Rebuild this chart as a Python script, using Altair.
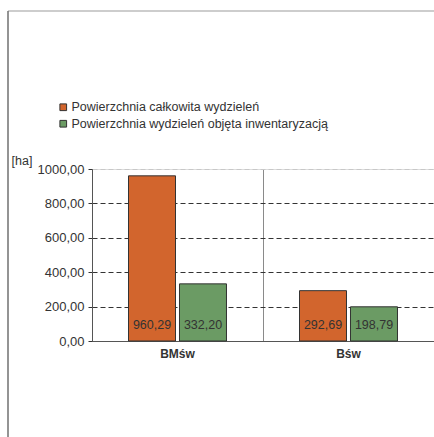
import altair as alt
import pandas as pd

categories = ["BMśw", "BMśw", "Bśw", "Bśw"]
series = ["Powierzchnia całkowita wydzieleń", "Powierzchnia wydzieleń objęta inwentaryzacją",
          "Powierzchnia całkowita wydzieleń", "Powierzchnia wydzieleń objęta inwentaryzacją"]
values = [960.29, 332.20, 292.69, 198.79]
series_order = ["Powierzchnia całkowita wydzieleń", "Powierzchnia wydzieleń objęta inwentaryzacją"]
colors = ["#D2652D", "#6B9B64"]
cat_order = ["BMśw", "Bśw"]
y_ticks = [0, 200, 400, 600, 800, 1000]

df = pd.DataFrame({"cat": categories, "series": series, "value": values})

FONT = "Liberation Sans"

x_enc = alt.X("cat:N", sort=cat_order, title=None,
              scale=alt.Scale(paddingInner=0, paddingOuter=0),
              axis=alt.Axis(bandPosition=0, grid=True, gridColor="#8a8a8a", gridWidth=1,
                            ticks=False, labelPadding=7, labelFontWeight="bold",
                            labelFontSize=12, labelColor="#333333", labelFont=FONT,
                            domainColor="#555555", labelAngle=0))
xo_enc = alt.XOffset("series:N", sort=series_order,
                     scale=alt.Scale(paddingInner=0.078, paddingOuter=0.716))

base = alt.Chart(df)

bars = base.mark_bar(stroke="#333333", strokeWidth=1).encode(
    x=x_enc,
    xOffset=xo_enc,
    y=alt.Y("value:Q", scale=alt.Scale(domain=[0, 1000], nice=False),
            title="[ha]",
            axis=alt.Axis(values=y_ticks, tickCount=len(y_ticks), labelOverlap=False,
                          labelExpr="replace(format(datum.value, '.2f'), '.', ',')",
                          labelFont=FONT, labelFontSize=13, labelColor="#333333",
                          tickSize=4, tickColor="#333333", labelPadding=4,
                          domainColor="#555555",
                          grid=True,
                          gridDash=[5, 3],
                          gridColor={"condition": {"test": "datum.value == 1000", "value": "#c8c8c8"},
                                     "value": "#333333"},
                          titleAngle=0, titleAlign="left", titleBaseline="middle",
                          titleX=-81, titleY=-9, titleFont=FONT, titleFontSize=12.5,
                          titleFontWeight="normal", titleColor="#333333")),
    color=alt.Color("series:N", sort=series_order,
                    scale=alt.Scale(domain=series_order, range=colors),
                    legend=alt.Legend(title=None, orient="none", legendX=-35, legendY=-68,
                                      symbolType="square", symbolSize=45,
                                      symbolStrokeColor="#333333", symbolStrokeWidth=1,
                                      labelFont=FONT, labelFontSize=12.5, labelColor="#333333",
                                      labelLimit=0, rowPadding=3.5, labelOffset=2)),
)

labels = base.transform_calculate(
    lbl="replace(format(datum.value, '.2f'), '.', ',')"
).mark_text(font=FONT, fontSize=12.5, color="#333333", dy=-16, baseline="middle").encode(
    x=alt.X("cat:N", sort=cat_order),
    xOffset=xo_enc,
    y=alt.datum(0),
    text="lbl:N",
)

frame_top = alt.Chart(pd.DataFrame({"a": [0]})).mark_rule(color="#bdbdbd", strokeWidth=1.5).encode(
    x=alt.value(-84), x2=alt.value(360), y=alt.value(-158))
frame_left = alt.Chart(pd.DataFrame({"a": [0]})).mark_rule(color="#707070", strokeWidth=1.5).encode(
    x=alt.value(-84), y=alt.value(-158), y2=alt.value(268))

chart = alt.layer(bars, labels, frame_top, frame_left).properties(
    width=342, height=172,
    padding={"left": 92, "top": 169, "right": 0, "bottom": 96},
    autosize=alt.AutoSizeParams(type="none"),
).configure_view(stroke=None).configure(background="white")

chart.save("out.html", embed_options={"renderer": "svg", "actions": False})
